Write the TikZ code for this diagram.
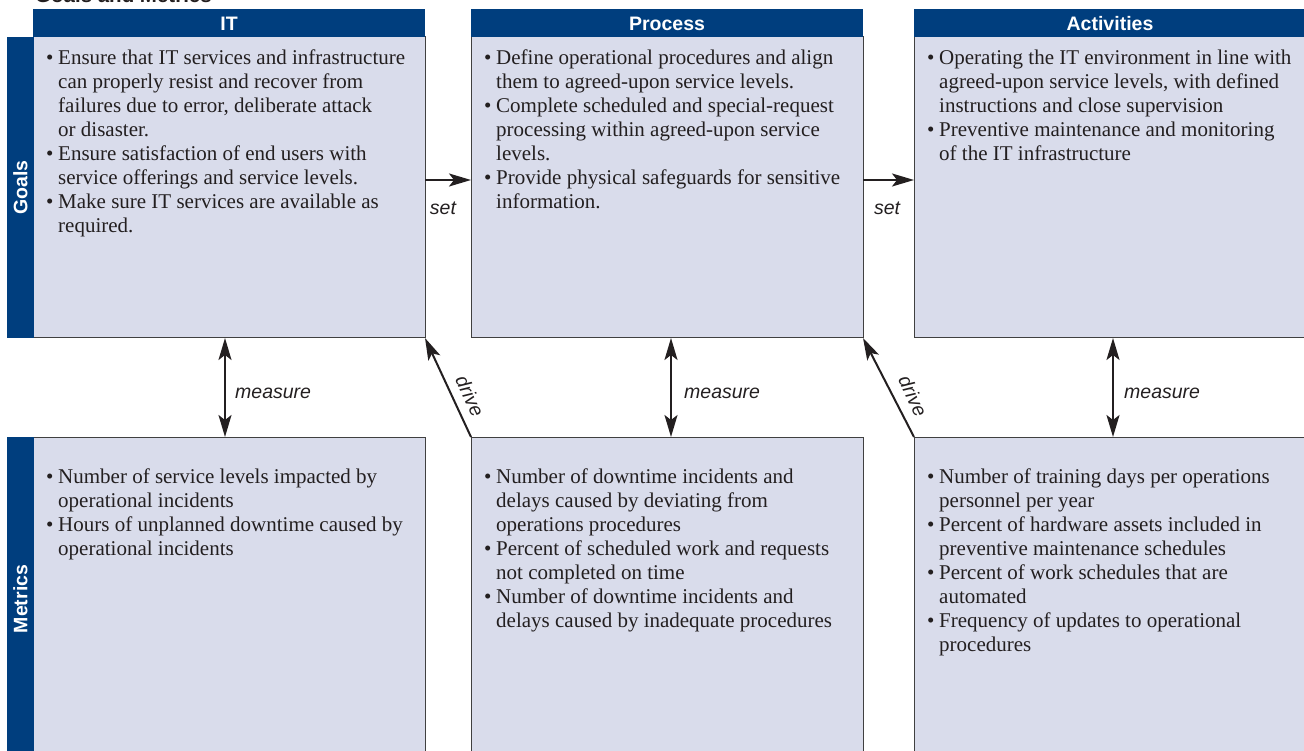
\documentclass[tikz,border=0pt]{standalone}
\usepackage{fontspec}
\setmainfont{Liberation Serif}
\newfontfamily\hsans{Liberation Sans}
\usetikzlibrary{arrows.meta}
\definecolor{navy}{RGB}{0,62,126}
\definecolor{lav}{RGB}{217,220,235}
\definecolor{ink}{RGB}{35,31,32}
\newcommand\bu{\makebox[12pt][l]{\textbullet}}
\newcommand\ci{\hspace*{12pt}}
\begin{document}
\begin{tikzpicture}[x=1pt,y=-1pt,
  box/.style={draw=black!75,line width=1pt,fill=lav,minimum width=392pt,inner sep=0pt,outer sep=0pt},
  hdr/.style={fill=navy,text=white,minimum width=392pt,minimum height=28pt,inner sep=0pt,outer sep=0pt,font=\hsans\bfseries\fontsize{19.5}{22}\selectfont},
  bar/.style={fill=navy,minimum width=27pt,inner sep=0pt,outer sep=0pt},
  barlbl/.style={text=white,rotate=90,font=\hsans\bfseries\fontsize{19.5}{22}\selectfont,inner sep=0pt},
  txt/.style={anchor=north west,align=left,inner sep=0pt,text=ink,font=\fontsize{21}{24}\selectfont},
  lbl/.style={text=ink,inner sep=0pt,font=\hsans\itshape\fontsize{19.5}{22}\selectfont},
  arr/.style={draw=ink,line width=2pt,-{Stealth[length=22pt,width=13pt,inset=5pt]}},
  darr/.style={draw=ink,line width=2pt,{Stealth[length=22pt,width=13pt,inset=5pt]}-{Stealth[length=22pt,width=13pt,inset=5pt]}}]
\useasboundingbox (0,0) rectangle (1304,751);
\clip (0,0) rectangle (1304,751);
% title (cut off at top)
\node[anchor=base west,inner sep=0pt,text=ink,font=\hsans\bfseries\fontsize{20.5}{24}\selectfont] (title) at (35,3) {Goals and Metrics};
% goal boxes
\node[box,minimum height=301pt] (itg) at (229,187.5) {};
\node[box,minimum height=301pt] (prg) at (667,187.5) {};
\node[box,minimum height=301pt] (acg) at (1110,187.5) {};
% metric boxes
\node[box,minimum height=330pt] (itm) at (229,602) {};
\node[box,minimum height=330pt] (prm) at (667,602) {};
\node[box,minimum height=330pt] (acm) at (1110,602) {};
% headers
\node[hdr] (hit) at (229,23.5) {IT};
\node[hdr] (hpr) at (667,23.5) {Process};
\node[hdr] (hac) at (1110,23.5) {Activities};
% side bars
\node[bar,minimum height=301pt] (gbar) at (20.5,187.5) {};
\node[barlbl] (glbl) at (gbar.center) {Goals};
\node[bar,minimum height=330pt] (mbar) at (20.5,602) {};
\node[barlbl] (mlbl) at (20.5,599) {Metrics};
% goal texts
\node[txt] (t1) at (46,47.7) {\strut\bu Ensure that IT services and infrastructure\\
\ci can properly resist and recover from\\
\ci failures due to error, deliberate attack\\
\ci or disaster.\\
\bu Ensure satisfaction of end users with\\
\ci service offerings and service levels.\\
\bu Make sure IT services are available as\\
\ci required.};
\node[txt] (t2) at (484,47.7) {\strut\bu Define operational procedures and align\\
\ci them to agreed-upon service levels.\\
\bu Complete scheduled and special-request\\
\ci processing within agreed-upon service\\
\ci levels.\\
\bu Provide physical safeguards for sensitive\\
\ci information.};
\node[txt] (t3) at (927,47.7) {\strut\bu Operating the IT environment in line with\\
\ci agreed-upon service levels, with defined\\
\ci instructions and close supervision\\
\bu Preventive maintenance and monitoring\\
\ci of the IT infrastructure};
% metric texts
\node[txt] (t4) at (46,466.7) {\strut\bu Number of service levels impacted by\\
\ci operational incidents\\
\bu Hours of unplanned downtime caused by\\
\ci operational incidents};
\node[txt] (t5) at (484,466.7) {\strut\bu Number of downtime incidents and\\
\ci delays caused by deviating from\\
\ci operations procedures\\
\bu Percent of scheduled work and requests\\
\ci not completed on time\\
\bu Number of downtime incidents and\\
\ci delays caused by inadequate procedures};
\node[txt] (t6) at (927,466.7) {\strut\bu Number of training days per operations\\
\ci personnel per year\\
\bu Percent of hardware assets included in\\
\ci preventive maintenance schedules\\
\bu Percent of work schedules that are\\
\ci automated\\
\bu Frequency of updates to operational\\
\ci procedures};
% helper coordinates
\coordinate (r1) at (0,180);
\coordinate (c1) at (225,0);
\coordinate (c2) at (671,0);
\coordinate (c3) at (1113,0);
% set arrows
\draw[arr] (itg.east |- r1) -- (prg.west |- r1);
\draw[arr] (prg.east |- r1) -- (acg.west |- r1);
\node[lbl] (s1) at (443,208) {set};
\node[lbl] (s2) at (887,208) {set};
% measure arrows
\draw[darr] (itg.south -| c1) -- (itm.north -| c1);
\draw[darr] (prg.south -| c2) -- (prm.north -| c2);
\draw[darr] (acg.south -| c3) -- (acm.north -| c3);
\node[lbl,anchor=west] (m1) at (235,393) {measure};
\node[lbl,anchor=west] (m2) at (684,393) {measure};
\node[lbl,anchor=west] (m3) at (1124,393) {measure};
% drive arrows
\draw[arr] (prm.north west) -- (itg.south east);
\draw[arr] (acm.north west) -- (prg.south east);
\node[lbl,rotate=-65] (d1) at (470,396) {drive};
\node[lbl,rotate=-65] (d2) at (913,396) {drive};
\end{tikzpicture}
\end{document}
